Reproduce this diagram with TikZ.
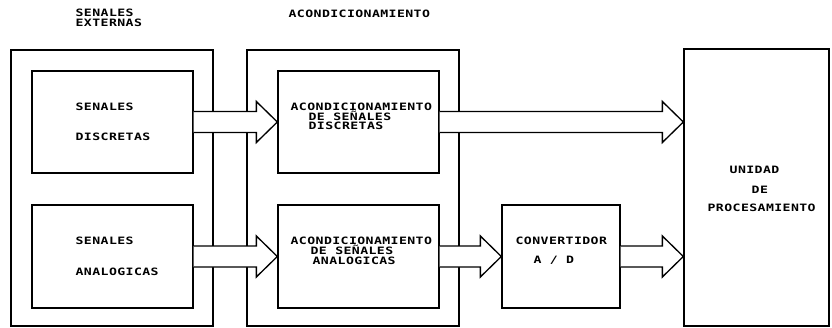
\documentclass[tikz,border=0pt]{standalone}
\usepackage{fontspec}
\newfontfamily\plotfont{DejaVu Sans Mono Bold}[FakeStretch=1.3,LetterSpace=4]
\usetikzlibrary{calc}
\newcommand\fatarrow[2]{\draw[fat] ($(#1)+(0,-10.5)$) -- ($(#2)+(-21,-10.5)$) -- ($(#2)+(-21,-20.5)$) -- (#2) -- ($(#2)+(-21,20.5)$) -- ($(#2)+(-21,10.5)$) -- ($(#1)+(0,10.5)$);}
\begin{document}
\begin{tikzpicture}[x=0.75pt,y=-0.75pt,line width=1pt,
  box/.style={draw,rectangle,inner sep=0pt},
  lbl/.style={anchor=west,inner sep=0pt,text height=5.5pt,text depth=0pt,
    font=\plotfont\fontsize{7.6}{8}\selectfont},
  fat/.style={draw,fill=white,line join=miter}]
\useasboundingbox (0,0) rectangle (832,328);
% boxes
\node[box,minimum width=202*0.75pt,minimum height=276*0.75pt] (ext) at (112,188) {};
\node[box,minimum width=161*0.75pt,minimum height=102*0.75pt] (D1) at (112.5,122) {};
\node[box,minimum width=161*0.75pt,minimum height=103*0.75pt] (A1) at (112.5,256.5) {};
\node[box,minimum width=212*0.75pt,minimum height=276*0.75pt] (cond) at (353,188) {};
\node[box,minimum width=161*0.75pt,minimum height=102*0.75pt] (ACD) at (358.5,122) {};
\node[box,minimum width=161*0.75pt,minimum height=103*0.75pt] (ACA) at (358.5,256.5) {};
\node[box,minimum width=118*0.75pt,minimum height=103*0.75pt] (CONV) at (561,256.5) {};
\node[box,minimum width=145*0.75pt,minimum height=277*0.75pt] (UNI) at (756.5,187.5) {};
\coordinate (p1) at (ACD.east -| UNI.west);
\coordinate (p2) at (CONV.east -| UNI.west);
% arrows
\fatarrow{D1.east}{ACD.west}
\fatarrow{A1.east}{ACA.west}
\fatarrow{ACD.east}{p1}
\fatarrow{ACA.east}{CONV.west}
\fatarrow{CONV.east}{p2}
% labels
\node[lbl] (t1a) at (75,13) {SENALES};
\node[lbl] (t1b) at (75,23) {EXTERNAS};
\node[lbl] (t2) at (288,14) {ACONDICIONAMIENTO};
\node[lbl] (d1) at (75,107) {SENALES};
\node[lbl] (d2) at (75,137) {DISCRETAS};
\node[lbl] (a1) at (75,241) {SENALES};
\node[lbl] (a2) at (75,272) {ANALOGICAS};
\node[lbl] (c1) at (290,107) {ACONDICIONAMIENTO};
\node[lbl] (c2) at (308,116.5) {DE SEÑALES};
\node[lbl] (c3) at (308,126) {DISCRETAS};
\node[lbl] (e1) at (290,241) {ACONDICIONAMIENTO};
\node[lbl] (e2) at (310,251) {DE SEÑALES};
\node[lbl] (e3) at (312,261) {ANALOGICAS};
\node[lbl] (v1) at (515,241) {CONVERTIDOR};
\node[lbl] (v2) at (533,260) {A / D};
\node[lbl] (u1) at (729,170) {UNIDAD};
\node[lbl] (u2) at (751,190) {DE};
\node[lbl] (u3) at (707,208) {PROCESAMIENTO};
\end{tikzpicture}
\end{document}
